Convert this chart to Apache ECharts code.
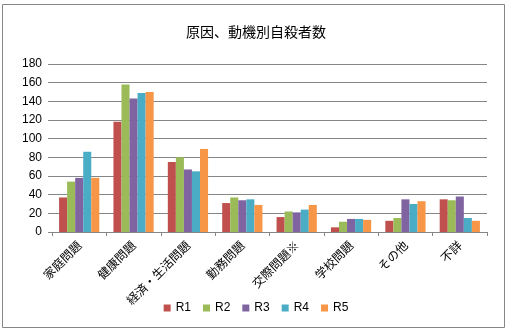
<!DOCTYPE html>
<html>
<head>
<meta charset="utf-8">
<script src="https://cdn.jsdelivr.net/npm/echarts@6/dist/echarts.min.js"></script>
<style>
  html, body { margin: 0; padding: 0; background: #fff; }
  #chart { width: 512px; height: 334px; }
</style>
</head>
<body>
<div id="chart"></div>
<script>
// Categories (causes / motives)
const categories = ['家庭問題', '健康問題', '経済・生活問題', '勤務問題', '交際問題※', '学校問題', 'その他', '不詳'];

// Counts per fiscal year
const r1 = [37, 118, 75, 31, 16, 5, 12, 35];
const r2 = [54, 158, 80, 37, 22, 11, 15, 34];
const r3 = [58, 143, 67, 34, 21, 14, 35, 38];
const r4 = [86, 149, 65, 35, 24, 14, 30, 15];
const r5 = [58, 150, 89, 29, 29, 13, 33, 12];

const seriesNames = ['R1', 'R2', 'R3', 'R4', 'R5'];
const seriesData = [r1, r2, r3, r4, r5];
const colors = ['#C0504D', '#9BBB59', '#8064A2', '#4BACC6', '#F79646'];

const yTicks = { min: 0, max: 180, interval: 20 };

const chart = echarts.init(document.getElementById('chart'), null, { renderer: 'canvas' });

chart.setOption({
  animation: false,
  color: colors,
  title: {
    text: '原因、動機別自殺者数',
    left: 'center',
    top: 20,
    textStyle: { fontFamily: 'Noto Sans CJK JP', fontSize: 14, fontWeight: 'normal', color: '#000' }
  },
  graphic: [{
    type: 'rect',
    shape: { x: 2.5, y: 4.5, width: 502, height: 323 },
    style: { fill: 'none', stroke: '#868686', lineWidth: 1 },
    silent: true
  }],
  grid: { left: 52, right: 25, top: 64, bottom: 102 },
  legend: {
    data: seriesNames,
    bottom: 15,
    left: 'center',
    icon: 'rect',
    itemWidth: 7,
    itemHeight: 7,
    itemGap: 12,
    textStyle: { fontFamily: 'Liberation Sans', fontSize: 12, color: '#000' }
  },
  xAxis: {
    type: 'category',
    data: categories,
    axisLine: { lineStyle: { color: '#868686', width: 1 } },
    axisTick: { show: true, length: 4, lineStyle: { color: '#868686' } },
    axisLabel: {
      rotate: 45,
      margin: 11,
      interval: 0,
      fontFamily: 'Noto Sans CJK JP',
      fontSize: 12,
      color: '#000'
    }
  },
  yAxis: {
    type: 'value',
    min: yTicks.min,
    max: yTicks.max,
    interval: yTicks.interval,
    axisLine: { show: false },
    axisTick: { show: true, length: 4, lineStyle: { color: '#868686' } },
    splitLine: { lineStyle: { color: '#868686', width: 1 } },
    axisLabel: { margin: 10, fontFamily: 'Liberation Sans', fontSize: 12, color: '#000' }
  },
  series: seriesNames.map((name, i) => ({
    name: name,
    type: 'bar',
    data: seriesData[i],
    barGap: '0%',
    barCategoryGap: '26%'
  }))
});
</script>
</body>
</html>
